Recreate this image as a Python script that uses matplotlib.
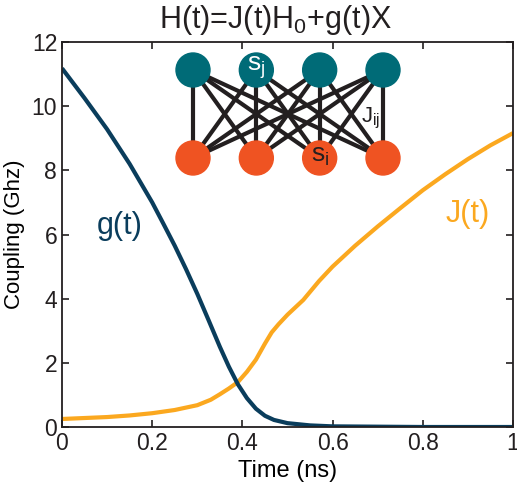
import numpy as np
import matplotlib
matplotlib.use("Agg")
import matplotlib.pyplot as plt
from matplotlib.patches import Circle

plt.rcParams["font.family"] = ["Liberation Sans", "DejaVu Sans"]
plt.rcParams["mathtext.fontset"] = "custom"
plt.rcParams["mathtext.rm"] = "Liberation Sans"
plt.rcParams["mathtext.default"] = "regular"

# transverse field g(t)
t_g = [0, 0.05, 0.1, 0.15, 0.2, 0.225, 0.25, 0.275, 0.3, 0.325, 0.35, 0.37,
       0.39, 0.41, 0.43, 0.45, 0.47, 0.5, 0.55, 0.6, 0.7, 0.8, 0.9, 1.0]
g_vals = [11.18, 10.25, 9.28, 8.2, 7.0, 6.33, 5.65, 4.92, 4.15, 3.33, 2.5, 1.88,
          1.33, 0.9, 0.57, 0.35, 0.22, 0.12, 0.05, 0.02, 0.01, 0.0, 0.0, 0.0]

# problem coupling J(t)
t_J = [0, 0.05, 0.1, 0.15, 0.2, 0.25, 0.3, 0.33, 0.35, 0.37, 0.39, 0.41,
       0.43, 0.45, 0.465, 0.48, 0.5, 0.535, 0.57, 0.6, 0.65, 0.7, 0.75,
       0.8, 0.85, 0.9, 0.95, 1.0]
J_vals = [0.25, 0.28, 0.31, 0.36, 0.43, 0.53, 0.68, 0.85, 1.02, 1.2, 1.4, 1.72,
          2.1, 2.6, 2.95, 3.2, 3.5, 3.96, 4.55, 5.0, 5.65, 6.25, 6.82,
          7.38, 7.88, 8.35, 8.78, 9.16]

x_ticks = [0, 0.2, 0.4, 0.6, 0.8, 1]
x_labels = ["0", "0.2", "0.4", "0.6", "0.8", "1"]
y_ticks = [0, 2, 4, 6, 8, 10, 12]

c_g = "#0A3D5C"
c_J = "#FBA81F"
c_top = "#006B77"
c_bot = "#EF5322"
c_edge = "#231F20"

W, H = 517, 490
fig = plt.figure(figsize=(W / 100, H / 100), dpi=100)
ax = fig.add_axes([62 / W, (H - 427) / H, 451 / W, 385 / H])

ax.plot(t_J, J_vals, color=c_J, lw=3.0, solid_capstyle="butt")
ax.plot(t_g, g_vals, color=c_g, lw=3.0, solid_capstyle="butt")

ax.set_xlim(0, 1)
ax.set_ylim(0, 12)
ax.set_xticks(x_ticks)
ax.set_xticklabels(x_labels)
ax.set_yticks(y_ticks)
ax.tick_params(direction="in", length=5, width=1.2, top=True, right=True,
               labelsize=16.5, colors="#231F20")
for sp in ax.spines.values():
    sp.set_linewidth(1.3)
    sp.set_color("#231F20")
ax.set_xlabel("Time (ns)", fontsize=17, labelpad=4)
ax.set_ylabel("Coupling (Ghz)", fontsize=16, labelpad=5)

fig.text(275 / W, 1 - 20 / H, "H(t)=J(t)H$_0$+g(t)X", fontsize=22,
         ha="center", va="center", color="#231F20")

ax.text(0.128, 6.25, "g(t)", color=c_g, fontsize=22, ha="center", va="center")
ax.text(0.9, 6.65, "J(t)", color=c_J, fontsize=22, ha="center", va="center")

# inset: bipartite spin graph, drawn in pixel units
ins = fig.add_axes([170 / W, (H - 185) / H, 240 / W, 140 / H])
ins.set_xlim(170, 410)
ins.set_ylim(185, 45)
ins.axis("off")
xs = np.linspace(193, 383, 4)
y_top, y_bot, r = 70, 158, 17
for xa in xs:
    for xb in xs:
        ins.plot([xa, xb], [y_top, y_bot], color=c_edge, lw=3.0, zorder=1)
for xa in xs:
    ins.add_patch(Circle((xa, y_top), r, color=c_top, zorder=2))
    ins.add_patch(Circle((xa, y_bot), r, color=c_bot, zorder=2))
ins.text(xs[1], y_top - 2, "s$_j$", color="white", fontsize=19,
         ha="center", va="center", zorder=3)
ins.text(xs[2], y_bot - 2, "s$_i$", color="#231F20", fontsize=19,
         ha="center", va="center", zorder=3)
ins.text(371, 118, "J$_{ij}$", color="#231F20", fontsize=16,
         ha="center", va="center", zorder=3)

fig.savefig("out.png", dpi=100)
